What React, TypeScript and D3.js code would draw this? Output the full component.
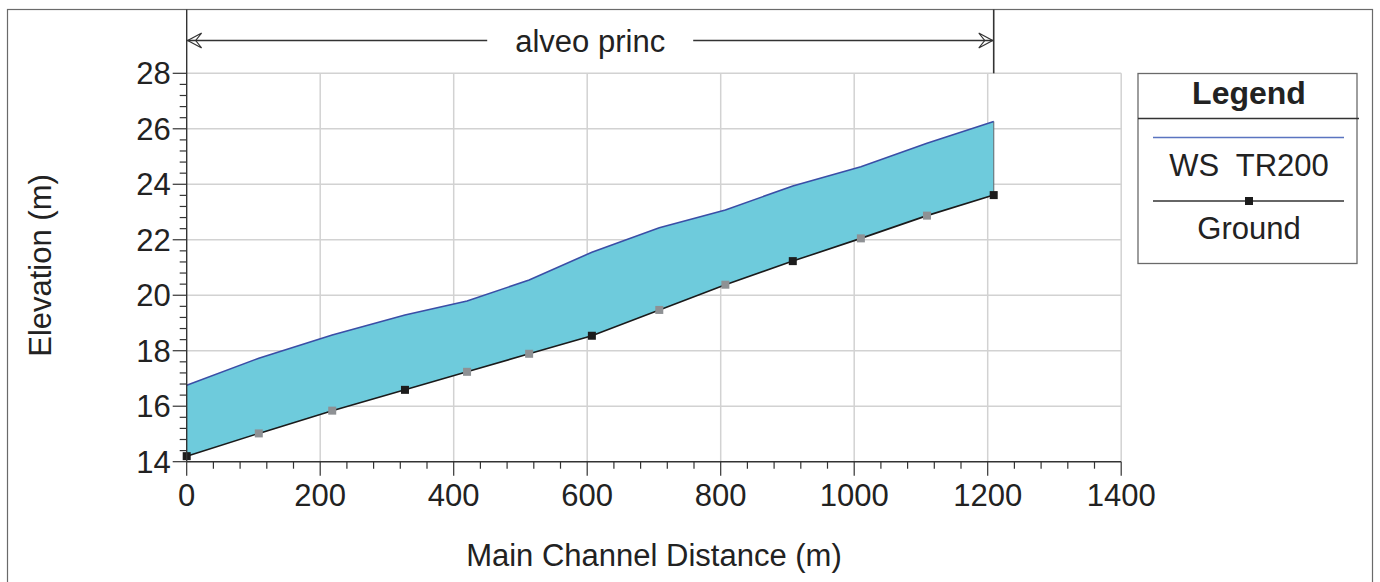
import { useEffect, useRef } from 'react';
import * as d3 from 'd3';

// profile data
const stations = [0, 108, 218, 327, 420, 513, 607, 708, 807, 908, 1010, 1109, 1209];
const groundElev = [14.2, 15.02, 15.84, 16.59, 17.24, 17.89, 18.54, 19.47, 20.38, 21.23, 22.05, 22.87, 23.61];
const wsElev = [16.76, 17.73, 18.57, 19.29, 19.79, 20.55, 21.55, 22.43, 23.07, 23.94, 24.63, 25.48, 26.26];
const interpolated = [false, true, true, false, true, true, false, true, true, false, true, true, false];

const xTicks = [0, 200, 400, 600, 800, 1000, 1200, 1400];
const yTicks = [14, 16, 18, 20, 22, 24, 26, 28];
const legendItems = ['WS  TR200', 'Ground'];
const reachLabel = 'alveo princ';
const reachRange = [0, 1209];

const C = {
  fill: '#6ecbdc',
  ws: '#3a4ea6',
  ground: '#1a1a1a',
  markDark: '#1c1c1c',
  markGrey: '#8e9194',
  grid: '#d2d2d2',
  axis: '#333',
  border: '#6a6a6a',
  text: '#222',
};
const font = "'Liberation Sans', Arial, sans-serif";
const FS = 31;

export default function App() {
  const ref = useRef<SVGSVGElement>(null);

  useEffect(() => {
    const svg = d3.select(ref.current);
    svg.selectAll('*').remove();

    const x = d3.scaleLinear().domain([0, 1400]).range([186.7, 1121.2]);
    const y = d3.scaleLinear().domain([14, 28]).range([461.7, 73.3]);
    const pts = stations.map((s, i) => ({ s, g: groundElev[i], w: wsElev[i], interp: interpolated[i] }));

    // outer frame
    svg.append('rect').attr('x', 7.5).attr('y', 9.5).attr('width', 1365).attr('height', 600)
      .attr('fill', 'none').attr('stroke', C.border).attr('stroke-width', 1.2);

    // grid
    const g = svg.append('g');
    g.selectAll('.vg').data(xTicks.slice(1)).join('line')
      .attr('x1', d => x(d)).attr('x2', d => x(d)).attr('y1', y(28)).attr('y2', y(14))
      .attr('stroke', C.grid).attr('stroke-width', 1.5);
    g.selectAll('.hg').data(yTicks.slice(1)).join('line')
      .attr('x1', x(0)).attr('x2', x(1400)).attr('y1', d => y(d)).attr('y2', d => y(d))
      .attr('stroke', C.grid).attr('stroke-width', 1.5);

    // water area between ground and WS
    const area = d3.area<any>().x(d => x(d.s)).y0(d => y(d.g)).y1(d => y(d.w));
    g.append('path').datum(pts).attr('d', area).attr('fill', C.fill).attr('stroke', 'none');
    const last = pts[pts.length - 1];
    g.append('line').attr('x1', x(last.s)).attr('x2', x(last.s)).attr('y1', y(last.w)).attr('y2', y(last.g))
      .attr('stroke', '#6a7a80').attr('stroke-width', 1.2);

    const lineWs = d3.line<any>().x(d => x(d.s)).y(d => y(d.w));
    const lineG = d3.line<any>().x(d => x(d.s)).y(d => y(d.g));
    g.append('path').datum(pts).attr('d', lineWs).attr('fill', 'none').attr('stroke', C.ws).attr('stroke-width', 1.6);
    g.append('path').datum(pts).attr('d', lineG).attr('fill', 'none').attr('stroke', C.ground).attr('stroke-width', 1.6);
    g.selectAll('.mk').data(pts).join('rect')
      .attr('x', d => x(d.s) - 4).attr('y', d => y(d.g) - 4).attr('width', 8).attr('height', 8)
      .attr('fill', d => (d.interp ? C.markGrey : C.markDark));

    // axes
    const minorX = d3.range(0, 1401, 40);
    const minorY = d3.range(14, 28.01, 0.4);
    g.selectAll('.mx').data(minorX).join('line')
      .attr('x1', d => x(d)).attr('x2', d => x(d)).attr('y1', y(14)).attr('y2', d => y(14) + (d % 200 === 0 ? 14 : 7))
      .attr('stroke', C.axis).attr('stroke-width', 1.2);
    g.selectAll('.my').data(minorY).join('line')
      .attr('y1', d => y(d)).attr('y2', d => y(d)).attr('x1', x(0))
      .attr('x2', d => x(0) - (Math.abs((d - 14) % 2) < 0.01 || Math.abs((d - 14) % 2 - 2) < 0.01 ? 14 : 7))
      .attr('stroke', C.axis).attr('stroke-width', 1.2);
    g.append('line').attr('x1', x(0)).attr('x2', x(1400)).attr('y1', y(14)).attr('y2', y(14)).attr('stroke', C.axis).attr('stroke-width', 1.4);
    g.append('line').attr('x1', x(0)).attr('x2', x(0)).attr('y1', 9.5).attr('y2', y(14)).attr('stroke', C.axis).attr('stroke-width', 1.4);

    g.selectAll('.xl').data(xTicks).join('text')
      .attr('x', d => x(d)).attr('y', y(14) + 44).attr('text-anchor', 'middle')
      .attr('font-family', font).attr('font-size', FS).attr('fill', C.text).text(d => d);
    g.selectAll('.yl').data(yTicks).join('text')
      .attr('x', x(0) - 16).attr('y', d => y(d) + 11).attr('text-anchor', 'end')
      .attr('font-family', font).attr('font-size', FS).attr('fill', C.text).text(d => d);

    svg.append('text').attr('x', (x(0) + x(1400)) / 2).attr('y', 566).attr('text-anchor', 'middle')
      .attr('font-family', font).attr('font-size', FS).attr('fill', C.text).text('Main Channel Distance (m)');
    svg.append('text').attr('transform', `translate(51,${(y(14) + y(28)) / 2 - 2}) rotate(-90)`).attr('text-anchor', 'middle')
      .attr('font-family', font).attr('font-size', FS).attr('fill', C.text).text('Elevation (m)');

    // reach annotation
    const xa = x(reachRange[0]), xb = x(reachRange[1]), ay = 40.5;
    svg.append('line').attr('x1', xb).attr('x2', xb).attr('y1', 9.5).attr('y2', y(28)).attr('stroke', C.axis).attr('stroke-width', 1.6);
    const mid = (xa + xb) / 2;
    svg.append('line').attr('x1', xa).attr('x2', mid - 103).attr('y1', ay).attr('y2', ay).attr('stroke', C.axis).attr('stroke-width', 1.3);
    svg.append('line').attr('x1', mid + 103).attr('x2', xb).attr('y1', ay).attr('y2', ay).attr('stroke', C.axis).attr('stroke-width', 1.3);
    svg.append('path').attr('d', `M${xa + 15},${ay - 7.5} L${xa + 1},${ay} L${xa + 15},${ay + 7.5} M${xa + 15},${ay - 7.5} L${xa + 9},${ay} L${xa + 15},${ay + 7.5}`)
      .attr('fill', 'none').attr('stroke', C.axis).attr('stroke-width', 1.2);
    svg.append('path').attr('d', `M${xb - 15},${ay - 7.5} L${xb - 1},${ay} L${xb - 15},${ay + 7.5} M${xb - 15},${ay - 7.5} L${xb - 9},${ay} L${xb - 15},${ay + 7.5}`)
      .attr('fill', 'none').attr('stroke', C.axis).attr('stroke-width', 1.2);
    svg.append('text').attr('x', mid).attr('y', 52).attr('text-anchor', 'middle')
      .attr('font-family', font).attr('font-size', FS).attr('fill', C.text).text(reachLabel);

    // legend
    const lg = svg.append('g');
    lg.append('rect').attr('x', 1138).attr('y', 73.5).attr('width', 219).attr('height', 190)
      .attr('fill', '#fff').attr('stroke', C.border).attr('stroke-width', 1.3);
    lg.append('line').attr('x1', 1138).attr('x2', 1359).attr('y1', 118.5).attr('y2', 118.5).attr('stroke', C.axis).attr('stroke-width', 1.3);
    lg.append('text').attr('x', 1249).attr('y', 104).attr('text-anchor', 'middle').attr('font-weight', 'bold')
      .attr('font-family', font).attr('font-size', 32).attr('fill', C.text).text('Legend');
    lg.append('line').attr('x1', 1153).attr('x2', 1344).attr('y1', 137.5).attr('y2', 137.5).attr('stroke', '#5a74c0').attr('stroke-width', 1.6);
    lg.append('line').attr('x1', 1153).attr('x2', 1344).attr('y1', 201).attr('y2', 201).attr('stroke', C.axis).attr('stroke-width', 1.6);
    lg.append('rect').attr('x', 1245).attr('y', 197).attr('width', 8).attr('height', 8).attr('fill', C.markDark);
    lg.selectAll('.lt').data(legendItems).join('text')
      .attr('x', 1249).attr('y', (d, i) => 176 + i * 63).attr('text-anchor', 'middle').attr('xml:space', 'preserve')
      .attr('font-family', font).attr('font-size', FS).attr('fill', C.text).text(d => d);
  }, []);

  return (
    <svg ref={ref} width={1380} height={582} style={{ position: 'absolute', left: 0, top: 0, background: '#fff' }} />
  );
}
